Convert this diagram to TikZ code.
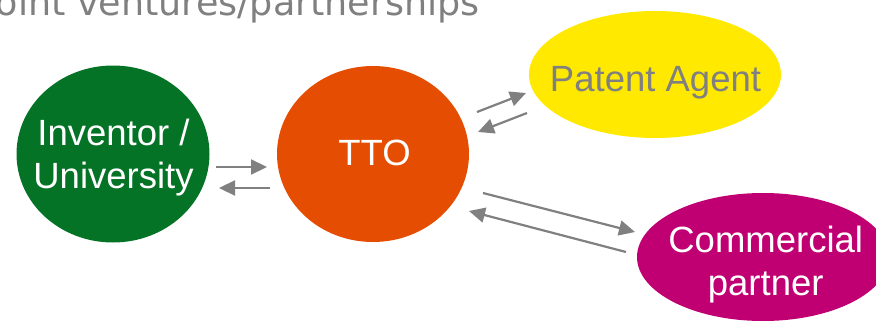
\documentclass[tikz,border=0pt]{standalone}
\usepackage{fontspec}
\setmainfont{Liberation Sans}
\newfontfamily\titlefont{DejaVu Sans}
\usetikzlibrary{shapes.geometric,arrows.meta}

\definecolor{invgreen}{RGB}{5,115,38}
\definecolor{ttoorange}{RGB}{229,78,2}
\definecolor{agentyellow}{RGB}{255,233,0}
\definecolor{partnermagenta}{RGB}{192,0,114}
\definecolor{flowgray}{RGB}{128,128,128}

\tikzset{
  blob/.style={ellipse, draw=none, inner sep=0pt},
  blobtext/.style={inner sep=0pt, anchor=base,
    font=\fontsize{36.5}{43.5}\selectfont},
  flow/.style={draw=flowgray, line width=2.2pt,
    -{Triangle[length=16pt,width=15pt]}},
}

\begin{document}
\begin{tikzpicture}[x=1pt,y=1pt]
  \useasboundingbox (0,0) rectangle (876,325);
  \clip (0,0) rectangle (876,325);

  % heading line at the top edge
  \node[inner sep=0pt, anchor=base east, text=flowgray,
        font=\titlefont\fontsize{36.5}{43}\selectfont]
        (heading) at (480,309) {oint ventures/partnerships};

  % parties
  \node[blob, fill=invgreen, minimum width=193pt, minimum height=177pt]
        (inv) at (113,171) {};
  \node[blob, fill=ttoorange, minimum width=192pt, minimum height=176pt]
        (tto) at (373,171) {};
  \node[blob, fill=agentyellow, minimum width=252pt, minimum height=127pt]
        (pat) at (655,250.5) {};
  \node[blob, fill=partnermagenta, minimum width=252pt, minimum height=128pt]
        (com) at (763,68) {};

  % labels
  \node[blobtext, text=white] (invT) at (113.5,180)
        {\begin{tabular}[t]{@{}c@{}}Inventor /\\University\end{tabular}};
  \node[blobtext, text=white] (ttoT) at (374.5,160) {TTO};
  \node[blobtext, text=flowgray] (patT) at (655.5,233.3) {Patent Agent};
  \node[blobtext, text=white] (comT) at (765.7,73)
        {\begin{tabular}[t]{@{}c@{}}Commercial\\partner\end{tabular}};

  % end points of the exchange arrows
  \coordinate (invOut) at (216,158);  \coordinate (ttoInL) at (267,158);
  \coordinate (ttoOutL) at (270,137); \coordinate (invIn) at (219,137);
  \coordinate (ttoOutA) at (477,213); \coordinate (patIn) at (526,232);
  \coordinate (patOut) at (527,212);  \coordinate (ttoInA) at (478,193);
  \coordinate (ttoOutC) at (483,132); \coordinate (comIn) at (635,93);
  \coordinate (comOut) at (626,73);   \coordinate (ttoInC) at (469,114);

  \draw[flow] (invOut) -- (ttoInL);
  \draw[flow] (ttoOutL) -- (invIn);
  \draw[flow] (ttoOutA) -- (patIn);
  \draw[flow] (patOut) -- (ttoInA);
  \draw[flow] (ttoOutC) -- (comIn);
  \draw[flow] (comOut) -- (ttoInC);
\end{tikzpicture}
\end{document}
